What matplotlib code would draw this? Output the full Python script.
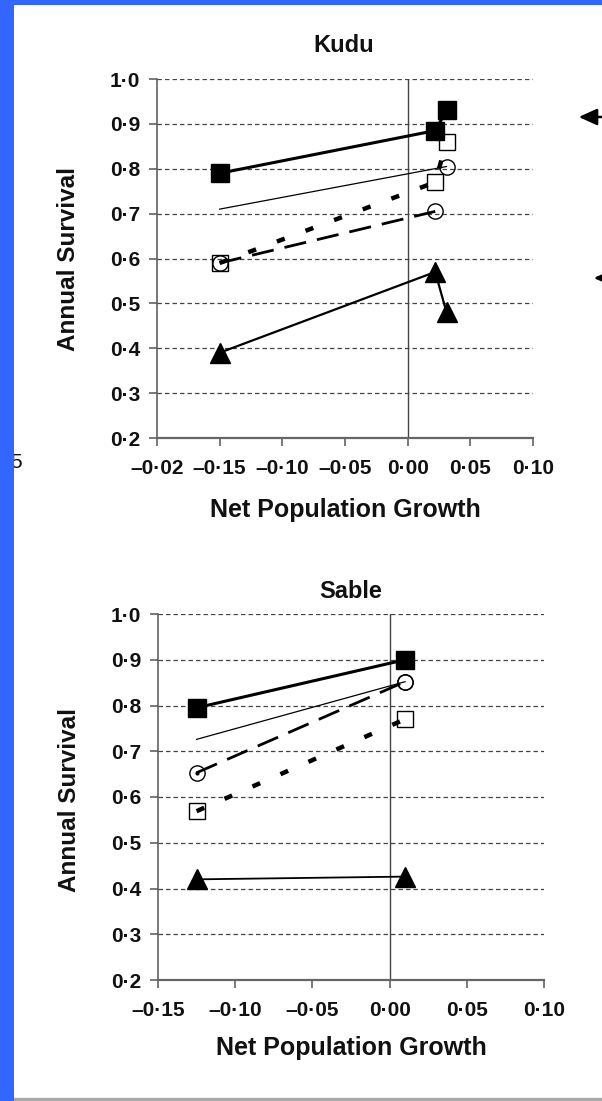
import matplotlib
matplotlib.use("Agg")
import matplotlib.pyplot as plt
from matplotlib.patches import Rectangle

plt.rcParams['font.family'] = ['Liberation Sans', 'DejaVu Sans']
plt.rcParams['lines.scale_dashes'] = False

# ---------------- data ----------------
kudu_x = [-0.15, 0.022, 0.031]
kudu_sq_filled = [0.79, 0.885, 0.93]
kudu_sq_open = [0.59, 0.77, 0.86]
kudu_tri = [0.39, 0.57, 0.48]
kudu_circ_x = [-0.15, 0.022]
kudu_circ = [0.59, 0.705]
kudu_thin_x = [-0.15, 0.031]
kudu_thin = [0.71, 0.805]

sable_x = [-0.125, 0.010]
sable_sq_filled = [0.795, 0.90]
sable_thin = [0.726, 0.852]
sable_circ = [0.653, 0.852]
sable_sq_open = [0.569, 0.770]
sable_tri = [0.420, 0.426]

y_ticks = [0.2, 0.3, 0.4, 0.5, 0.6, 0.7, 0.8, 0.9, 1.0]
y_labels = ['0·2', '0·3', '0·4', '0·5', '0·6', '0·7', '0·8', '0·9', '1·0']
kudu_xticks = [-0.20, -0.15, -0.10, -0.05, 0.00, 0.05, 0.10]
kudu_xlabels = ['\u20130·02', '\u20130·15', '\u20130·10', '\u20130·05', '0·00', '0·05', '0·10']
sable_xticks = [-0.15, -0.10, -0.05, 0.00, 0.05, 0.10]
sable_xlabels = ['\u20130·15', '\u20130·10', '\u20130·05', '0·00', '0·05', '0·10']

W, H = 602, 1101
fig = plt.figure(figsize=(W / 100, H / 100), dpi=100)
fig.patch.set_facecolor('white')


def px_axes(x0, y0, x1, y1):
    return [x0 / W, 1 - y1 / H, (x1 - x0) / W, (y1 - y0) / H]


ax1 = fig.add_axes(px_axes(157, 79, 533, 438))
ax2 = fig.add_axes(px_axes(158, 614, 544, 980))


def style(ax, xlim, xticks, xlabels):
    ax.set_xlim(*xlim)
    ax.set_ylim(0.2, 1.0)
    for s in ('top', 'right'):
        ax.spines[s].set_visible(False)
    ax.spines['left'].set_color('#555555')
    ax.spines['left'].set_linewidth(1.1)
    ax.spines['bottom'].set_color('#666666')
    ax.spines['bottom'].set_linewidth(1.6)
    ax.set_yticks(y_ticks)
    ax.set_yticklabels(y_labels)
    ax.set_xticks(xticks)
    ax.set_xticklabels(xlabels)
    ax.tick_params(axis='both', direction='out', length=6, width=1.1,
                   color='#555555', labelsize=15)
    ax.tick_params(axis='x', pad=9)
    ax.tick_params(axis='y', pad=6)
    for lab in ax.get_xticklabels() + ax.get_yticklabels():
        lab.set_fontweight('bold')
        lab.set_color('#111111')
    ax.yaxis.grid(True, linestyle=(0, (3.2, 2.2)), color='#444444', lw=0.9)
    ax.set_axisbelow(True)
    ax.axvline(0, color='#444444', lw=1.0, zorder=1)


style(ax1, (-0.20, 0.10), kudu_xticks, kudu_xlabels)
style(ax2, (-0.15, 0.10), sable_xticks, sable_xlabels)

thick_dash = (0, (6, 16))
long_dash = (0, (16, 8))


def draw_panel(ax, xs_full, sqf, thin_x, thin, circ_x, circ, sqo, tri_x, tri, tri_lw):
    ax.plot(xs_full, sqf, color='black', lw=2.2, marker='s', ms=13,
            mfc='black', mec='black', zorder=5, clip_on=False)
    ax.plot(thin_x, thin, color='black', lw=0.9, marker='o', ms=11,
            mfc='none', mec='black', mew=1.0, markevery=[len(thin_x) - 1], zorder=4)
    ax.plot(circ_x, circ, color='black', lw=2.0, linestyle=long_dash, marker='o',
            ms=11, mfc='none', mec='black', mew=1.0, zorder=4)
    ax.plot(xs_full[:len(sqo)], sqo, color='black', lw=3.2, linestyle=thick_dash,
            marker='s', ms=12, mfc='none', mec='black', mew=1.0, zorder=4)
    ax.plot(tri_x, tri, color='black', lw=tri_lw, marker='^', ms=15,
            mfc='black', mec='black', zorder=5)


draw_panel(ax1, kudu_x, kudu_sq_filled, kudu_thin_x, kudu_thin,
           kudu_circ_x, kudu_circ, kudu_sq_open, kudu_x, kudu_tri, 1.6)
draw_panel(ax2, sable_x, sable_sq_filled, sable_x, sable_thin,
           sable_x, sable_circ, sable_sq_open, sable_x, sable_tri, 1.3)
ax2.plot(sable_x[:1], sable_circ[:1], marker='.', ms=4, color='black', zorder=6)

# titles and labels
tkw = dict(fontweight='bold', color='#111111', ha='center', va='center')
fig.text(344 / W, 1 - 46 / H, 'Kudu', fontsize=17, **tkw)
fig.text(345 / W, 1 - 510 / H, 'Net Population Growth', fontsize=18, **tkw)
fig.text(68.5 / W, 1 - 259 / H, 'Annual Survival', fontsize=17.5, rotation=90, **tkw)
fig.text(351 / W, 1 - 591 / H, 'Sable', fontsize=17, **tkw)
fig.text(351 / W, 1 - 1048 / H, 'Net Population Growth', fontsize=18, **tkw)
fig.text(69 / W, 1 - 800 / H, 'Annual Survival', fontsize=17.5, rotation=90, **tkw)

# cropped slide fragments
fig.text(22 / W, 1 - 463 / H, '5', fontsize=15, color='#111111', ha='right',
         va='center', zorder=1)
fig.patches.append(Rectangle((0, 0), 14 / W, 1, transform=fig.transFigure,
                             facecolor='#3366FF', edgecolor='none', zorder=10))
fig.patches.append(Rectangle((0, 1 - 5 / H), 1, 5 / H, transform=fig.transFigure,
                             facecolor='#3366FF', edgecolor='none', zorder=10))
fig.patches.append(Rectangle((14 / W, 0), 1, 3 / H, transform=fig.transFigure,
                             facecolor='#aaaaaa', edgecolor='none', zorder=10))
fig.patches.append(Rectangle((14 / W, 3 / H), 1, 1 / H, transform=fig.transFigure,
                             facecolor='#eeeeee', edgecolor='none', zorder=10))

# arrows at the right edge
fig.add_artist(plt.Annotation('', xy=(576, H - 117), xycoords='figure pixels',
                              xytext=(615, H - 117), textcoords='figure pixels',
                              arrowprops=dict(arrowstyle='-|>,head_length=1.1,head_width=0.5',
                                              color='black', lw=1.8)))
fig.add_artist(plt.Annotation('', xy=(591, H - 278), xycoords='figure pixels',
                              xytext=(630, H - 278), textcoords='figure pixels',
                              arrowprops=dict(arrowstyle='-|>,head_length=1.1,head_width=0.5',
                                              color='black', lw=1.8)))

fig.savefig('out.png', dpi=100)
